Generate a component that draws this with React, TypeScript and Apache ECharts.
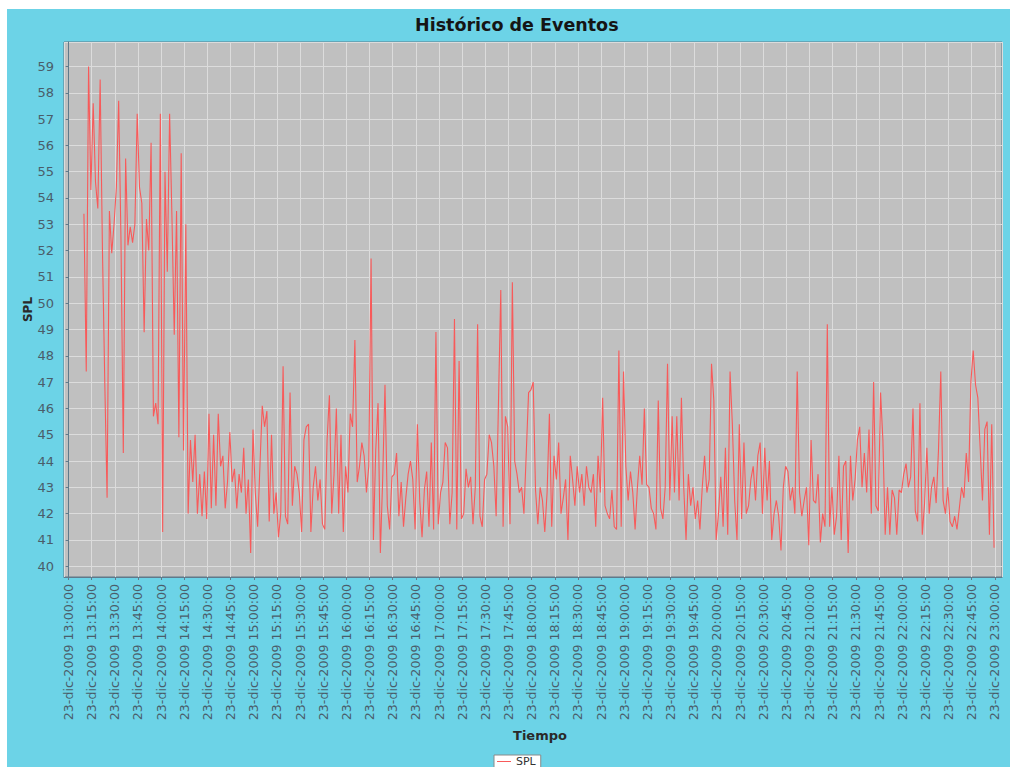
import React, { useEffect, useRef } from "react";
import * as echarts from "echarts";

// ---- Data ----
const MONTHS = ["ene", "feb", "mar", "abr", "may", "jun", "jul", "ago", "sep", "oct", "nov", "dic"];
const DAY = 23;
const MONTH_INDEX = 11;
const YEAR = 2009;
const AXIS_START_HOUR = 13; // x-axis origin 13:00
const FIRST_SAMPLE_MIN = 10; // first sample at 13:10
const STEP_MIN = 1.5; // minutes between samples

// SPL values, 13:10 .. 14:58
const splBlockA = [
  53.4, 47.4, 59.0, 54.3, 57.6, 54.6, 53.6, 58.5, 52.0, 47.0,
  42.6, 53.5, 51.9, 53.0, 54.4, 57.7, 52.4, 44.3, 55.5, 52.2,
  52.9, 52.3, 53.0, 57.2, 54.4, 53.8, 48.9, 53.2, 52.0, 56.1,
  45.7, 46.2, 45.4, 57.2, 41.3, 55.0, 51.2, 57.2, 53.3, 48.8,
  53.5, 44.9, 55.7, 44.4, 53.0, 42.0, 44.8, 43.2, 45.0, 42.0,
  43.5, 41.9, 43.6, 41.8, 45.8, 42.2, 45.0, 42.3, 45.8, 43.8,
  44.2, 42.2, 43.2, 45.1, 43.2, 43.7, 42.2, 43.5, 42.8, 44.5,
  42.0, 43.3, 40.5,
];
// 14:59 .. 16:56
const splBlockB = [
  45.2, 42.8, 41.5, 43.8, 46.1, 45.3, 45.9, 41.7, 45.0, 42.0,
  42.8, 41.1, 42.0, 47.6, 41.9, 41.6, 46.6, 42.3, 43.8, 43.5,
  42.8, 41.3, 44.8, 45.3, 45.4, 41.3, 43.0, 43.8, 42.5, 43.3,
  41.6, 41.4, 44.8, 46.5, 42.0, 43.5, 46.0, 42.0, 45.0, 41.3,
  43.8, 42.8, 45.8, 45.3, 48.6, 43.2, 43.8, 44.7, 44.2, 42.8,
  43.8, 51.7, 41.0, 44.4, 46.2, 40.5, 43.3, 46.9, 42.3, 41.4,
  43.4, 43.5, 44.3, 41.9, 43.2, 41.5, 42.6, 43.5, 44.0, 43.3,
  41.4, 45.4, 42.5, 41.1, 42.9, 43.6, 41.5, 44.7, 41.4,
];
// 16:58 .. 18:56
const splBlockC = [
  48.9, 41.6, 42.8, 43.2, 44.7, 44.5, 41.6, 42.8, 49.4, 41.4,
  47.8, 41.8, 42.0, 43.7, 43.0, 43.4, 41.6, 43.0, 49.2, 41.9,
  41.5, 43.3, 43.5, 45.0, 44.7, 43.8, 41.9, 46.2, 50.5, 41.5,
  45.7, 45.3, 41.6, 50.8, 44.0, 43.5, 42.8, 43.0, 42.0, 44.3,
  46.6, 46.7, 47.0, 42.9, 41.6, 43.0, 42.5, 41.3, 42.8, 45.8,
  41.5, 44.2, 43.3, 44.7, 42.0, 42.6, 43.3, 41.0, 44.2, 43.3,
  42.3, 43.8, 42.8, 43.5, 42.3, 43.8, 43.0, 42.8, 43.5, 41.5,
  44.2, 42.8, 46.4, 42.3, 42.0, 41.8, 42.9, 41.5, 41.4, 48.2,
];
// 18:58 .. 21:00
const splBlockD = [
  41.5, 47.4, 43.8, 42.5, 43.6, 42.8, 41.4, 43.0, 44.2, 43.1,
  46.0, 43.1, 43.0, 42.2, 42.0, 41.4, 46.3, 42.2, 41.8, 43.0,
  47.7, 42.5, 45.7, 42.8, 45.7, 42.5, 46.4, 43.0, 41.0, 43.5,
  42.3, 43.0, 41.8, 42.5, 41.4, 43.0, 44.2, 42.8, 43.3, 47.7,
  46.3, 41.0, 42.0, 43.4, 41.5, 44.5, 41.2, 47.4, 45.4, 42.5,
  41.0, 45.4, 41.8, 44.7, 42.0, 42.3, 43.3, 43.8, 42.5, 44.2,
  44.7, 42.0, 44.5, 42.5, 44.0, 41.0, 42.0, 42.5, 41.9, 40.6,
  43.0, 43.8, 43.6, 42.5, 43.0, 42.0, 47.4, 42.8, 41.9, 42.5,
  43.0, 40.8,
];
// 21:01 .. 23:00
const splBlockE = [
  44.8, 42.5, 42.4, 43.5, 40.9, 42.0, 41.5, 49.2, 41.5, 43.0,
  41.2, 41.9, 44.2, 41.0, 43.8, 44.0, 40.5, 44.2, 42.5, 43.3,
  44.8, 45.3, 43.0, 44.3, 42.8, 45.2, 42.0, 47.0, 42.3, 42.1,
  46.6, 44.8, 41.2, 43.0, 41.2, 42.9, 42.6, 41.2, 42.9, 42.8,
  43.5, 43.9, 43.0, 43.4, 46.0, 42.1, 41.7, 46.2, 41.2, 42.4,
  44.5, 42.0, 43.0, 43.4, 42.4, 44.4, 47.4, 42.5, 42.0, 43.0,
  41.7, 41.5, 41.9, 41.4, 42.2, 43.0, 42.6, 44.3, 43.2, 47.0,
  48.2, 46.9, 46.4, 44.5, 42.5, 45.2, 45.5, 41.2, 45.4, 40.7,
];

const splValues = [...splBlockA, ...splBlockB, ...splBlockC, ...splBlockD, ...splBlockE];

const FONT = "DejaVu Sans";

function pad(n: number) {
  return n < 10 ? "0" + n : String(n);
}

function isInt(v: number) {
  return Math.abs(v - Math.round(v)) < 1e-6;
}

// x unit = quarter hours since 13:00
function quarterLabel(v: number) {
  if (!isInt(v)) return "";
  const total = AXIS_START_HOUR * 60 + Math.round(v) * 15;
  const hh = Math.floor(total / 60);
  const mm = total % 60;
  return `${DAY}-${MONTHS[MONTH_INDEX]}-${YEAR} ${pad(hh)}:${pad(mm)}:00`;
}

export default function App() {
  const ref = useRef<HTMLDivElement>(null);

  useEffect(() => {
    if (!ref.current) return;
    const chart = echarts.init(ref.current, null, { renderer: "svg" });
    const data = splValues.map((v, i) => [(FIRST_SAMPLE_MIN + i * STEP_MIN) / 15, v]);
    chart.setOption({
      animation: false,
      backgroundColor: "#6cd3e7",
      title: {
        text: "Histórico de Eventos",
        left: 403,
        top: 2,
        textStyle: { fontFamily: FONT, fontWeight: "bold", fontSize: 17.5, color: "#151515" },
      },
      legend: {
        data: ["SPL"],
        left: 487,
        top: 746,
        backgroundColor: "#ffffff",
        borderColor: "#8a8a8a",
        borderWidth: 1,
        padding: [1, 5, 1, 3],
        itemWidth: 14,
        itemHeight: 1,
        icon: "rect",
        textStyle: { fontFamily: FONT, fontSize: 11, color: "#333" },
      },
      grid: {
        left: 57,
        top: 33,
        right: 8,
        bottom: 190,
        show: true,
        backgroundColor: "#c0c0c0",
        borderColor: "#5d7888",
        borderWidth: 1,
      },
      xAxis: {
        type: "value",
        min: -0.194,
        max: 40.31,
        splitNumber: 40,
        name: "Tiempo",
        nameLocation: "middle",
        nameGap: 152,
        nameTextStyle: { fontFamily: FONT, fontWeight: "bold", fontSize: 13, color: "#2a2a2a", padding: [0, 0, 0, 14] },
        axisLine: { show: true, lineStyle: { color: "#60798a" } },
        axisTick: { show: true, length: 3, lineStyle: { color: "#60798a" } },
        axisLabel: {
          rotate: 90,
          margin: 7,
          fontSize: 12.6,
          fontFamily: FONT,
          color: "#4a5d6a",
          showMinLabel: false,
          showMaxLabel: false,
          formatter: quarterLabel,
        },
        splitLine: { show: true, lineStyle: { color: "#dcdcdc", width: 1 } },
      },
      yAxis: {
        type: "value",
        min: 39.59,
        max: 59.93,
        splitNumber: 20,
        name: "SPL",
        nameLocation: "middle",
        nameGap: 30,
        nameMoveOverlap: false,
        nameTextStyle: { fontFamily: FONT, fontWeight: "bold", fontSize: 12, color: "#2a2a2a" },
        axisLine: { show: true, lineStyle: { color: "#60798a" } },
        axisTick: { show: true, length: 3, lineStyle: { color: "#60798a" } },
        axisLabel: {
          fontSize: 13,
          fontFamily: FONT,
          color: "#4a5d6a",
          margin: 10,
          showMinLabel: false,
          showMaxLabel: false,
          formatter: (v: number) => (isInt(v) ? String(Math.round(v)) : ""),
        },
        splitLine: { show: true, lineStyle: { color: "#dcdcdc", width: 1 } },
      },
      series: [
        {
          name: "SPL",
          type: "line",
          data,
          showSymbol: false,
          symbol: "none",
          lineStyle: { color: "#f85a5a", width: 1.1 },
          itemStyle: { color: "#f85a5a" },
        },
      ],
    });
    return () => chart.dispose();
  }, []);

  return (
    <div
      ref={ref}
      style={{ position: "fixed", left: 7, top: 9, width: 1003, height: 758, background: "#6cd3e7" }}
    />
  );
}
